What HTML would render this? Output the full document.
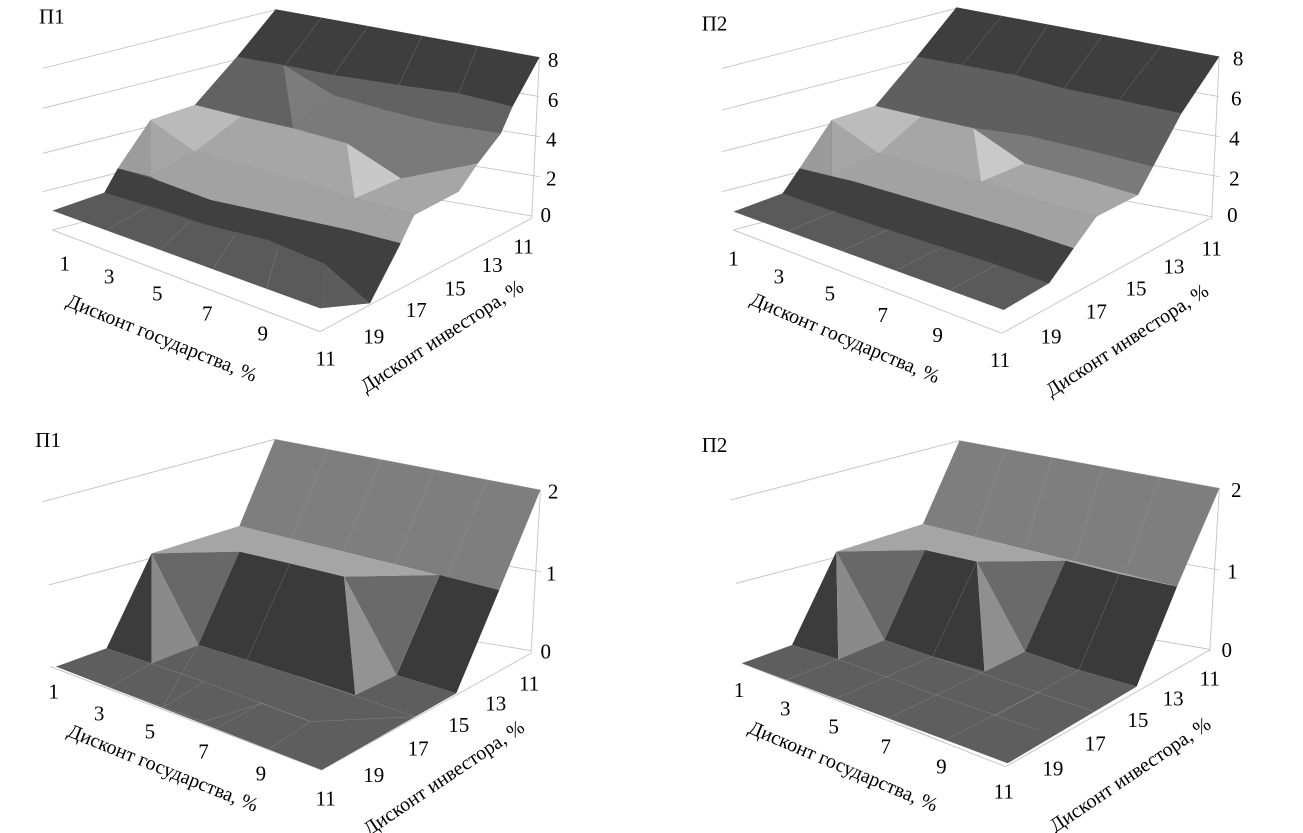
<!DOCTYPE html>
<html><head><meta charset="utf-8"><style>
html,body{margin:0;padding:0;background:#fff;}
svg{display:block;}
text{font-family:"Liberation Serif",serif;fill:#000;}
.ax{stroke:#c8c8c8;stroke-width:1;fill:none;vector-effect:non-scaling-stroke;}
.gl{stroke:#bdbdbd;stroke-width:0.8;fill:none;vector-effect:non-scaling-stroke;}
.sg{stroke:#a8a8a8;stroke-width:0.7;fill:none;vector-effect:non-scaling-stroke;}
</style></head><body>
<svg width="1303" height="833" viewBox="0 0 1303 833" xmlns="http://www.w3.org/2000/svg">
<rect width="1303" height="833" fill="#fff"/>

<!-- ============ TL ============ -->
<g transform="translate(-15,0) scale(0.385,0.3333)">
 <polyline class="gl" points="150,205 755,29 1440,172"/>
 <polyline class="gl" points="150,325 755,149 1440,290"/>
 <polyline class="gl" points="150,460 755,284 1440,410"/>
 <polyline class="gl" points="150,575 755,399 1440,530"/>
 <polyline class="gl" points="175,690 755,514 1420,648"/>
 <line class="ax" x1="1440" y1="172" x2="1420" y2="655"/>
 <line class="ax" x1="175" y1="690" x2="870" y2="995"/>
 <line class="ax" x1="870" y1="995" x2="1420" y2="655"/>
 <polygon fill="#5a5a5a" points="755,28 1440,172 1370,320 1340,400 1280,490 1230,575 1115,645 1075,730 1000,910 870,925 175,632 310,578 345,505 430,360 545,315 655,170"/>
 <polygon fill="#3e3e3e" points="755,28 1440,172 1370,320 1230,280 1075,255 905,225 775,195 655,170"/>
 <polygon fill="#626262" points="655,170 775,195 905,225 1075,255 1230,280 1370,320 1340,400 1180,370 1040,330 905,285 800,385 665,350 545,315"/>
 <polygon fill="#7c7c7c" points="775,195 905,285 800,385"/>
 <polygon fill="#7a7a7a" points="800,385 905,285 1040,330 1180,370 1340,400 1280,490 1080,535 940,430"/>
 <polygon fill="#a6a6a6" points="430,360 545,315 665,350 800,385 940,430 1080,535 1280,490 1230,575 1115,645 960,595 820,545 700,505 545,455 430,530"/>
 <polygon fill="#bababa" points="430,360 545,315 665,350 545,455"/>
 <polygon fill="#c8c8c8" points="940,430 1080,535 960,595"/>
 <polygon fill="#9c9c9c" points="345,505 430,360 430,530"/>
 <polygon fill="#a2a2a2" points="430,530 545,455 700,505 820,545 960,595 1115,645 1080,730 946,690 766,645 586,600 446,540"/>
 <polygon fill="#404040" points="310,578 345,505 446,540 586,600 766,645 946,690 1080,730 1000,910 880,790 735,720 576,675 446,625"/>
 <polygon fill="#5c5c5c" points="880,790 1000,910 870,925"/>
 <g class="sg">
  <line x1="314" y1="691" x2="423" y2="620"/><line x1="453" y1="750" x2="535" y2="663"/>
  <line x1="592" y1="808" x2="648" y2="705"/><line x1="731" y1="867" x2="760" y2="748"/>
  <line x1="875" y1="52" x2="780" y2="195"/><line x1="995" y1="78" x2="905" y2="225"/>
  <line x1="1135" y1="107" x2="1075" y2="255"/><line x1="1280" y1="138" x2="1230" y2="280"/>
  <polyline points="545,455 700,505 820,545 960,595"/>
  <polyline points="545,315 665,350 800,385 940,430"/>
 </g>
</g>
<g transform="translate(0,0) scale(0.37,0.3333)" font-size="21">
  <text transform="translate(140,50) scale(2.703,3)" text-anchor="middle" dominant-baseline="central">П1</text>
  <text transform="translate(175,790) scale(2.703,3)" text-anchor="middle" dominant-baseline="central">1</text>
  <text transform="translate(295,830) scale(2.703,3)" text-anchor="middle" dominant-baseline="central">3</text>
  <text transform="translate(425,880) scale(2.703,3)" text-anchor="middle" dominant-baseline="central">5</text>
  <text transform="translate(560,940) scale(2.703,3)" text-anchor="middle" dominant-baseline="central">7</text>
  <text transform="translate(710,1000) scale(2.703,3)" text-anchor="middle" dominant-baseline="central">9</text>
  <text transform="translate(880,1075) scale(2.703,3)" text-anchor="middle" dominant-baseline="central">11</text>
  <text transform="translate(1010,1010) scale(2.703,3)" text-anchor="middle" dominant-baseline="central">19</text>
  <text transform="translate(1125,930) scale(2.703,3)" text-anchor="middle" dominant-baseline="central">17</text>
  <text transform="translate(1230,865) scale(2.703,3)" text-anchor="middle" dominant-baseline="central">15</text>
  <text transform="translate(1330,795) scale(2.703,3)" text-anchor="middle" dominant-baseline="central">13</text>
  <text transform="translate(1415,740) scale(2.703,3)" text-anchor="middle" dominant-baseline="central">11</text>
  <text transform="translate(1495,180) scale(2.703,3)" text-anchor="middle" dominant-baseline="central">8</text>
  <text transform="translate(1495,300) scale(2.703,3)" text-anchor="middle" dominant-baseline="central">6</text>
  <text transform="translate(1490,418) scale(2.703,3)" text-anchor="middle" dominant-baseline="central">4</text>
  <text transform="translate(1490,535) scale(2.703,3)" text-anchor="middle" dominant-baseline="central">2</text>
  <text transform="translate(1475,645) scale(2.703,3)" text-anchor="middle" dominant-baseline="central">0</text>
  <text font-size="20" transform="translate(437,1015) scale(2.703,3) rotate(22)" text-anchor="middle" dominant-baseline="central">Дисконт государства, %</text>
  <text font-size="20" transform="translate(1195,1010) scale(2.703,3) rotate(-33)" text-anchor="middle" dominant-baseline="central">Дисконт инвестора, %</text>
</g>

<!-- ============ TR ============ -->
<g transform="translate(690,0) scale(0.378,0.3333)">
 <polyline class="gl" points="85,205 705,25 1400,170"/>
 <polyline class="gl" points="85,330 705,150 1400,290"/>
 <polyline class="gl" points="85,455 705,275 1400,410"/>
 <polyline class="gl" points="85,575 705,395 1400,530"/>
 <polyline class="gl" points="115,690 705,510 1380,650"/>
 <line class="ax" x1="1400" y1="170" x2="1380" y2="660"/>
 <line class="ax" x1="115" y1="690" x2="825" y2="1000"/>
 <line class="ax" x1="825" y1="1000" x2="1375" y2="655"/>
 <polygon fill="#5a5a5a" points="705,22 1400,170 1300,340 1225,500 1185,585 1075,650 1015,745 950,850 830,930 115,635 245,580 290,505 375,360 490,318 600,170"/>
 <polygon fill="#3e3e3e" points="705,22 1400,170 1300,340 1135,300 990,265 860,225 720,195 600,170"/>
 <polygon fill="#5f5f5f" points="600,170 720,195 860,225 990,265 1135,300 1300,340 1225,500 1070,455 905,410 750,385 610,350 490,318"/>
 <polygon fill="#7a7a7a" points="750,385 905,410 1070,455 1225,500 1185,585 1035,535 885,490"/>
 <polygon fill="#a6a6a6" points="375,360 490,318 610,350 750,385 885,490 1035,535 1185,585 1075,650 915,600 770,545 630,505 500,460 375,530"/>
 <polygon fill="#bcbcbc" points="375,360 490,318 610,350 500,460"/>
 <polygon fill="#c9c9c9" points="750,385 885,490 770,545"/>
 <polygon fill="#9a9a9a" points="290,505 375,360 375,530"/>
 <polygon fill="#a2a2a2" points="375,530 500,460 630,505 770,545 915,600 1075,650 1015,745 870,690 720,640 570,590 435,545"/>
 <polygon fill="#404040" points="245,580 290,505 435,545 570,590 720,640 870,690 1015,745 950,850 800,790 650,735 500,680 370,630"/>
 <g class="sg">
  <line x1="258" y1="694" x2="386" y2="634"/><line x1="401" y1="753" x2="527" y2="688"/>
  <line x1="544" y1="812" x2="668" y2="742"/><line x1="687" y1="871" x2="809" y2="796"/>
  <line x1="825" y1="47" x2="720" y2="195"/><line x1="945" y1="78" x2="860" y2="225"/>
  <line x1="1090" y1="108" x2="990" y2="265"/><line x1="1245" y1="140" x2="1135" y2="300"/>
  <polyline points="500,460 630,505 770,545 915,600"/>
  <polyline points="490,318 610,350 750,385 905,410"/>
 </g>
 <g font-size="21">
  <text transform="translate(65,70) scale(2.646,3)" text-anchor="middle" dominant-baseline="central">П2</text>
  <text transform="translate(115,775) scale(2.646,3)" text-anchor="middle" dominant-baseline="central">1</text>
  <text transform="translate(235,830) scale(2.646,3)" text-anchor="middle" dominant-baseline="central">3</text>
  <text transform="translate(370,880) scale(2.646,3)" text-anchor="middle" dominant-baseline="central">5</text>
  <text transform="translate(510,945) scale(2.646,3)" text-anchor="middle" dominant-baseline="central">7</text>
  <text transform="translate(655,1005) scale(2.646,3)" text-anchor="middle" dominant-baseline="central">9</text>
  <text transform="translate(820,1080) scale(2.646,3)" text-anchor="middle" dominant-baseline="central">11</text>
  <text transform="translate(955,1010) scale(2.646,3)" text-anchor="middle" dominant-baseline="central">19</text>
  <text transform="translate(1075,935) scale(2.646,3)" text-anchor="middle" dominant-baseline="central">17</text>
  <text transform="translate(1180,865) scale(2.646,3)" text-anchor="middle" dominant-baseline="central">15</text>
  <text transform="translate(1280,800) scale(2.646,3)" text-anchor="middle" dominant-baseline="central">13</text>
  <text transform="translate(1380,745) scale(2.646,3)" text-anchor="middle" dominant-baseline="central">11</text>
  <text transform="translate(1450,175) scale(2.646,3)" text-anchor="middle" dominant-baseline="central">8</text>
  <text transform="translate(1445,295) scale(2.646,3)" text-anchor="middle" dominant-baseline="central">6</text>
  <text transform="translate(1440,415) scale(2.646,3)" text-anchor="middle" dominant-baseline="central">4</text>
  <text transform="translate(1440,535) scale(2.646,3)" text-anchor="middle" dominant-baseline="central">2</text>
  <text transform="translate(1435,645) scale(2.646,3)" text-anchor="middle" dominant-baseline="central">0</text>
  <text font-size="20" transform="translate(410,1015) scale(2.646,3) rotate(23)" text-anchor="middle" dominant-baseline="central">Дисконт государства, %</text>
  <text font-size="20" transform="translate(1157,1022) scale(2.646,3) rotate(-33)" text-anchor="middle" dominant-baseline="central">Дисконт инвестора, %</text>
 </g>
</g>

<!-- ============ BL ============ -->
<g transform="translate(0,420) scale(0.374,0.3333)">
 <polyline class="gl" points="115,245 735,58 1445,210"/>
 <polyline class="gl" points="130,495 735,318 1445,455"/>
 <polyline class="gl" points="150,740 735,565 1420,692"/>
 <line class="ax" x1="1445" y1="210" x2="1420" y2="700"/>
 <line class="ax" x1="135" y1="740" x2="860" y2="1050"/>
 <line class="ax" x1="860" y1="1050" x2="1420" y2="700"/>
 <polygon fill="#7e7e7e" points="640,318 735,58 1445,210 1335,510"/>
 <polygon fill="#a5a5a5" points="405,400 640,318 1335,510 1175,465 920,470 775,430 640,395"/>
 <polygon fill="#3c3c3c" points="285,685 405,400 405,730"/>
 <polygon fill="#8a8a8a" points="405,400 530,675 405,730"/>
 <polygon fill="#686868" points="405,400 640,395 530,675"/>
 <polygon fill="#3a3a3a" points="640,395 775,430 920,470 950,825 800,770 660,720 530,675"/>
 <polygon fill="#939393" points="920,470 1060,765 950,825"/>
 <polygon fill="#6a6a6a" points="920,470 1175,465 1060,765"/>
 <polygon fill="#3a3a3a" points="1175,465 1335,510 1220,820 1060,765"/>
 <polygon fill="#5e5e5e" points="150,740 285,685 405,730 530,675 660,720 800,770 950,825 1060,765 1220,820 860,1050"/>
 <g class="sg">
  <line x1="877" y1="88" x2="779" y2="356"/><line x1="1019" y1="119" x2="918" y2="395"/>
  <line x1="1161" y1="149" x2="1057" y2="433"/><line x1="1303" y1="180" x2="1196" y2="472"/>
  <line x1="775" y1="430" x2="660" y2="720"/><line x1="1175" y1="465" x2="1060" y2="765"/>
  <line x1="292" y1="802" x2="405" y2="730"/><line x1="434" y1="864" x2="530" y2="675"/>
  <line x1="434" y1="864" x2="545" y2="785"/><line x1="576" y1="926" x2="700" y2="850"/>
  <line x1="718" y1="988" x2="830" y2="905"/>
  <polyline points="270,795 545,905 700,850 830,905 1110,890"/>
  <polyline points="405,730 545,785 700,850 830,905"/>
  <line x1="800" y1="770" x2="1110" y2="890"/>
 </g>
</g>
<g transform="translate(0,420) scale(0.37,0.3333)" font-size="21">
  <text transform="translate(130,60) scale(2.703,3)" text-anchor="middle" dominant-baseline="central">П1</text>
  <text transform="translate(145,815) scale(2.703,3)" text-anchor="middle" dominant-baseline="central">1</text>
  <text transform="translate(268,880) scale(2.703,3)" text-anchor="middle" dominant-baseline="central">3</text>
  <text transform="translate(405,935) scale(2.703,3)" text-anchor="middle" dominant-baseline="central">5</text>
  <text transform="translate(550,995) scale(2.703,3)" text-anchor="middle" dominant-baseline="central">7</text>
  <text transform="translate(705,1060) scale(2.703,3)" text-anchor="middle" dominant-baseline="central">9</text>
  <text transform="translate(880,1135) scale(2.703,3)" text-anchor="middle" dominant-baseline="central">11</text>
  <text transform="translate(1010,1065) scale(2.703,3)" text-anchor="middle" dominant-baseline="central">19</text>
  <text transform="translate(1130,985) scale(2.703,3)" text-anchor="middle" dominant-baseline="central">17</text>
  <text transform="translate(1240,915) scale(2.703,3)" text-anchor="middle" dominant-baseline="central">15</text>
  <text transform="translate(1340,850) scale(2.703,3)" text-anchor="middle" dominant-baseline="central">13</text>
  <text transform="translate(1430,790) scale(2.703,3)" text-anchor="middle" dominant-baseline="central">11</text>
  <text transform="translate(1495,215) scale(2.703,3)" text-anchor="middle" dominant-baseline="central">2</text>
  <text transform="translate(1490,460) scale(2.703,3)" text-anchor="middle" dominant-baseline="central">1</text>
  <text transform="translate(1475,695) scale(2.703,3)" text-anchor="middle" dominant-baseline="central">0</text>
  <text font-size="20" transform="translate(440,1045) scale(2.703,3) rotate(22)" text-anchor="middle" dominant-baseline="central">Дисконт государства, %</text>
  <text font-size="20" transform="translate(1200,1075) scale(2.703,3) rotate(-34)" text-anchor="middle" dominant-baseline="central">Дисконт инвестора, %</text>
</g>

<!-- ============ BR ============ -->
<g transform="translate(690,420) scale(0.385,0.3333)">
 <polyline class="gl" points="105,240 700,62 1375,205"/>
 <polyline class="gl" points="120,490 700,315 1375,450"/>
 <polyline class="gl" points="135,730 700,560 1350,688"/>
 <line class="ax" x1="1375" y1="205" x2="1350" y2="695"/>
 <line class="ax" x1="135" y1="730" x2="820" y2="1040"/>
 <line class="ax" x1="820" y1="1040" x2="1350" y2="690"/>
 <polygon fill="#7e7e7e" points="605,312 700,62 1375,205 1265,500"/>
 <polygon fill="#a5a5a5" points="380,395 605,312 1265,500 1115,462 975,422 745,425 610,390"/>
 <polygon fill="#3c3c3c" points="265,675 380,395 385,718"/>
 <polygon fill="#8a8a8a" points="380,395 505,660 385,718"/>
 <polygon fill="#686868" points="380,395 610,390 505,660"/>
 <polygon fill="#3a3a3a" points="610,390 745,425 765,755 630,710 505,660"/>
 <polygon fill="#8f8f8f" points="745,425 870,695 765,755"/>
 <polygon fill="#6a6a6a" points="745,425 975,422 870,695"/>
 <polygon fill="#3a3a3a" points="975,422 1115,462 1265,500 1160,800 1010,750 870,695"/>
 <polygon fill="#5e5e5e" points="135,730 265,675 385,718 505,660 630,710 765,755 870,695 1010,750 1160,800 825,1030"/>
 <g class="sg">
  <line x1="820" y1="88" x2="740" y2="350"/><line x1="940" y1="115" x2="870" y2="385"/>
  <line x1="1070" y1="140" x2="1000" y2="425"/><line x1="1220" y1="172" x2="1130" y2="462"/>
  <line x1="1115" y1="462" x2="1010" y2="750"/><line x1="630" y1="710" x2="745" y2="425"/>
  <line x1="250" y1="780" x2="385" y2="718"/><line x1="380" y1="835" x2="630" y2="710"/>
  <line x1="515" y1="895" x2="765" y2="755"/><line x1="655" y1="965" x2="900" y2="820"/>
  <polyline points="250,780 515,895 655,965"/>
  <polyline points="385,718 640,825 905,930"/>
  <line x1="630" y1="710" x2="1050" y2="875"/>
  <line x1="790" y1="890" x2="1010" y2="750"/>
 </g>
</g>
<g transform="translate(690,420) scale(0.378,0.3333)" font-size="21">
  <text transform="translate(65,75) scale(2.646,3)" text-anchor="middle" dominant-baseline="central">П2</text>
  <text transform="translate(130,810) scale(2.646,3)" text-anchor="middle" dominant-baseline="central">1</text>
  <text transform="translate(252,865) scale(2.646,3)" text-anchor="middle" dominant-baseline="central">3</text>
  <text transform="translate(380,920) scale(2.646,3)" text-anchor="middle" dominant-baseline="central">5</text>
  <text transform="translate(518,980) scale(2.646,3)" text-anchor="middle" dominant-baseline="central">7</text>
  <text transform="translate(665,1040) scale(2.646,3)" text-anchor="middle" dominant-baseline="central">9</text>
  <text transform="translate(830,1115) scale(2.646,3)" text-anchor="middle" dominant-baseline="central">11</text>
  <text transform="translate(960,1045) scale(2.646,3)" text-anchor="middle" dominant-baseline="central">19</text>
  <text transform="translate(1072,970) scale(2.646,3)" text-anchor="middle" dominant-baseline="central">17</text>
  <text transform="translate(1185,900) scale(2.646,3)" text-anchor="middle" dominant-baseline="central">15</text>
  <text transform="translate(1278,835) scale(2.646,3)" text-anchor="middle" dominant-baseline="central">13</text>
  <text transform="translate(1375,775) scale(2.646,3)" text-anchor="middle" dominant-baseline="central">11</text>
  <text transform="translate(1445,210) scale(2.646,3)" text-anchor="middle" dominant-baseline="central">2</text>
  <text transform="translate(1435,455) scale(2.646,3)" text-anchor="middle" dominant-baseline="central">1</text>
  <text transform="translate(1420,690) scale(2.646,3)" text-anchor="middle" dominant-baseline="central">0</text>
  <text font-size="20" transform="translate(405,1040) scale(2.646,3) rotate(23)" text-anchor="middle" dominant-baseline="central">Дисконт государства, %</text>
  <text font-size="20" transform="translate(1165,1065) scale(2.646,3) rotate(-34)" text-anchor="middle" dominant-baseline="central">Дисконт инвестора, %</text>
</g>
</svg>
</body></html>
